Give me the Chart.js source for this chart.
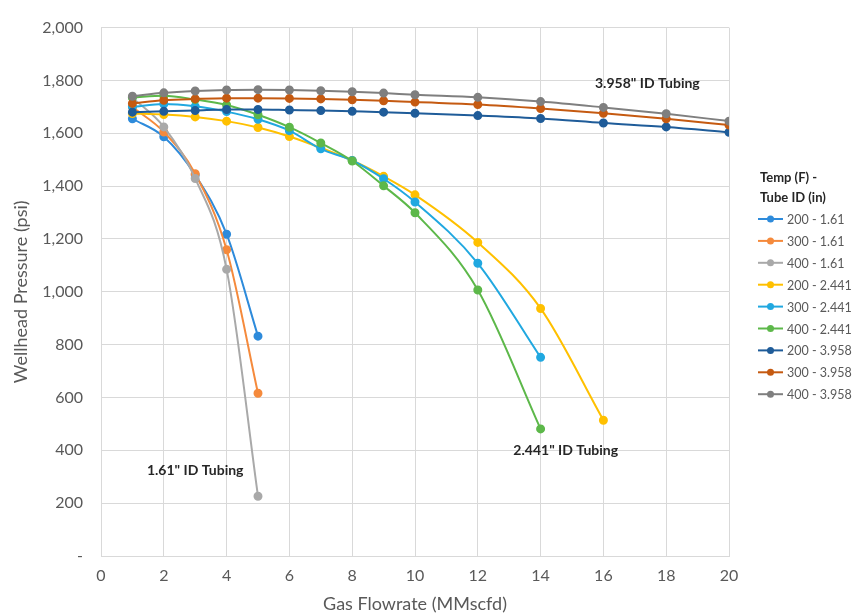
<!DOCTYPE html>
<html>
<head>
<meta charset="utf-8">
<script src="https://cdn.jsdelivr.net/npm/chart.js@4"></script>
<style>
  html, body { margin: 0; padding: 0; background: #fff; }
  #wrap { width: 857px; height: 615px; }
</style>
</head>
<body>
<div id="wrap"><canvas id="chart" width="857" height="615"></canvas></div>
<script>
// Gas flowrate (MMscfd) per tubing size
const flow161 = [1, 2, 3, 4, 5];
const flow2441 = [1, 2, 3, 4, 5, 6, 7, 8, 9, 10, 12, 14, 16];
const flow3958 = [1, 2, 3, 4, 5, 6, 7, 8, 9, 10, 12, 14, 16, 18, 20];

// Wellhead pressure (psi)
const p200_161 = [1655, 1587, 1442, 1218, 832];
const p300_161 = [1699, 1605, 1447, 1159, 616];
const p400_161 = [1735, 1624, 1429, 1085, 226];
const p200_2441 = [1675, 1671, 1662, 1646, 1622, 1588, 1545, 1497, 1437, 1367, 1187, 937, 514];
const p300_2441 = [1700, 1711, 1702, 1682, 1653, 1610, 1541, 1497, 1428, 1340, 1108, 752];
const p400_2441 = [1735, 1742, 1728, 1707, 1670, 1623, 1563, 1495, 1401, 1299, 1007, 481];
const p200_3958 = [1680, 1683, 1686, 1690, 1690, 1688, 1686, 1683, 1680, 1676, 1667, 1656, 1639, 1624, 1604];
const p300_3958 = [1713, 1725, 1730, 1733, 1733, 1732, 1730, 1727, 1723, 1718, 1709, 1694, 1676, 1655, 1631];
const p400_3958 = [1740, 1753, 1760, 1764, 1765, 1764, 1761, 1757, 1752, 1746, 1736, 1720, 1698, 1674, 1646];

const seriesLabels = ["200 - 1.61", "300 - 1.61", "400 - 1.61",
  "200 - 2.441", "300 - 2.441", "400 - 2.441",
  "200 - 3.958", "300 - 3.958", "400 - 3.958"];
const seriesColors = ["#2E8BDB", "#F58A3C", "#A9A9A9",
  "#FFC000", "#21A8E0", "#5DB84A",
  "#1F5C99", "#C55A11", "#7F7F7F"];
const seriesFlows = [flow161, flow161, flow161, flow2441, flow2441, flow2441, flow3958, flow3958, flow3958];
const seriesValues = [p200_161, p300_161, p400_161, p200_2441, p300_2441, p400_2441, p200_3958, p300_3958, p400_3958];

const legendTitle = ["Temp (F) -", "Tube ID (in)"];
const notes = [
  { text: '1.61" ID Tubing', x: 3.0, y: 323 },
  { text: '2.441" ID Tubing', x: 14.8, y: 398 },
  { text: '3.958" ID Tubing', x: 17.4, y: 1790 }
];

const FONT = "Lato, 'Open Sans', sans-serif";

const datasets = seriesLabels.map((label, i) => ({
  label,
  data: seriesValues[i].map((y, j) => ({ x: seriesFlows[i][j], y })),
  borderColor: seriesColors[i],
  backgroundColor: seriesColors[i],
  pointBackgroundColor: seriesColors[i],
  pointBorderColor: seriesColors[i],
  borderWidth: 2,
  pointRadius: 3.5,
  cubicInterpolationMode: "monotone",
  fill: false,
  order: seriesLabels.length - i // later series drawn on top, like Excel
}));

// legend + text labels drawn on the canvas
const extras = {
  id: "extras",
  afterDraw(chart) {
    const ctx = chart.ctx;
    const xs = chart.scales.x, ys = chart.scales.y;
    ctx.save();

    ctx.fillStyle = "#262626";
    ctx.font = "bold 14px " + FONT;
    ctx.textAlign = "center";
    ctx.textBaseline = "middle";
    notes.forEach(n => ctx.fillText(n.text, xs.getPixelForValue(n.x), ys.getPixelForValue(n.y)));

    const lx = 758;
    ctx.textAlign = "left";
    ctx.font = "bold 13px " + FONT;
    legendTitle.forEach((t, i) => ctx.fillText(t, lx + 2, 178 + i * 20));

    ctx.font = "12.5px " + FONT;
    seriesLabels.forEach((label, i) => {
      const y = 219 + i * 21.9;
      ctx.strokeStyle = seriesColors[i];
      ctx.lineWidth = 2;
      ctx.beginPath();
      ctx.moveTo(lx, y);
      ctx.lineTo(lx + 25, y);
      ctx.stroke();
      ctx.fillStyle = seriesColors[i];
      ctx.beginPath();
      ctx.arc(lx + 12.5, y, 3.5, 0, Math.PI * 2);
      ctx.fill();
      ctx.fillStyle = "#595959";
      ctx.fillText(label, lx + 29, y + 1);
    });
    ctx.restore();
  }
};

new Chart(document.getElementById("chart").getContext("2d"), {
  type: "line",
  data: { datasets },
  plugins: [extras],
  options: {
    responsive: false,
    animation: false,
    layout: { padding: { top: 18, right: 128, left: 0, bottom: 0 } },
    plugins: { legend: { display: false }, tooltip: { enabled: false } },
    scales: {
      x: {
        type: "linear",
        min: 0,
        max: 20,
        ticks: { stepSize: 2, color: "#595959", padding: 10, font: { family: FONT, size: 16 } },
        grid: { color: "#d9d9d9", lineWidth: 1, drawTicks: false },
        border: { color: "#d9d9d9" },
        title: { display: true, text: "Gas Flowrate (MMscfd)", color: "#595959", padding: { top: 4, bottom: 0 }, font: { family: FONT, size: 18 } },
        afterFit: s => { s.height = 59; }
      },
      y: {
        min: 0,
        max: 2000,
        ticks: {
          stepSize: 200,
          color: "#595959",
          padding: 18,
          font: { family: FONT, size: 16 },
          callback: v => v === 0 ? "-" : v.toLocaleString("en-US")
        },
        grid: { color: "#d9d9d9", lineWidth: 1, drawTicks: false },
        border: { display: false },
        title: { display: true, text: "Wellhead Pressure (psi)", color: "#595959", padding: { top: 10, bottom: 0 }, font: { family: FONT, size: 18 } },
        afterFit: s => { s.width = 101; }
      }
    }
  }
});
</script>
</body>
</html>
